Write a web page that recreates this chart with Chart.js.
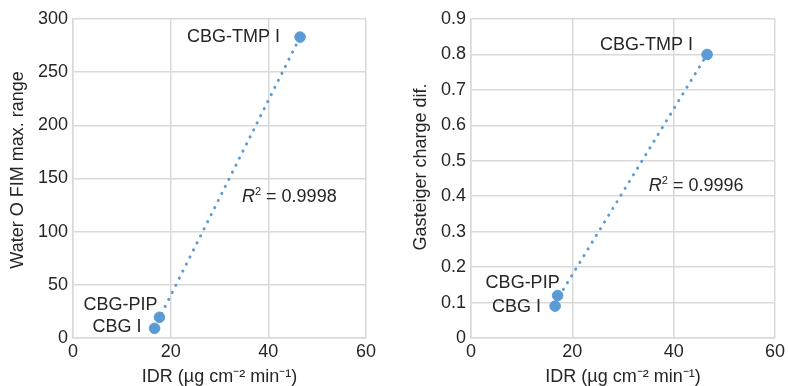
<!DOCTYPE html>
<html>
<head>
<meta charset="utf-8">
<script src="https://cdn.jsdelivr.net/npm/chart.js@4.4.1/dist/chart.umd.min.js"></script>
<style>
  body { margin: 0; background: #fff; }
  .wrap { position: absolute; top: 0; width: 394px; height: 386px; }
</style>
</head>
<body>
<div class="wrap" style="left:0"><canvas id="waterChart" width="394" height="386"></canvas></div>
<div class="wrap" style="left:394px"><canvas id="chargeChart" width="394" height="386"></canvas></div>
<script>
// Data
const compounds = ['CBG I', 'CBG-PIP', 'CBG-TMP I'];
const idrLeft = [16.7, 17.7, 46.5];
const waterFim = [9.1, 19.5, 283];
const idrRight = [16.6, 17.1, 46.6];
const chargeDif = [0.09, 0.12, 0.80];
const xTicks = [0, 20, 40, 60];
const waterTicks = [0, 50, 100, 150, 200, 250, 300];
const chargeTicks = [0, 0.1, 0.2, 0.3, 0.4, 0.5, 0.6, 0.7, 0.8, 0.9];
const r2Texts = ['0.9998', '0.9996'];

const FONT = "'Liberation Sans', Arial, sans-serif";
const TEXT = '#262626';
const BLUE = '#5b9bd5';
const GRID = '#d9d9d9';

// least squares trendline between min and max x
function trendline(xs, ys) {
    const n = xs.length;
    const mx = xs.reduce((a, b) => a + b, 0) / n;
    const my = ys.reduce((a, b) => a + b, 0) / n;
    let sxy = 0, sxx = 0;
    for (let i = 0; i < n; i++) {
        sxy += (xs[i] - mx) * (ys[i] - my);
        sxx += (xs[i] - mx) * (xs[i] - mx);
    }
    const slope = sxy / sxx;
    const b = my - slope * mx;
    const x0 = Math.min(...xs), x1 = Math.max(...xs);
    return [{ x: x0, y: slope * x0 + b }, { x: x1, y: slope * x1 + b }];
}

// point labels, R² text and the y axis title
const labelPlugin = {
    id: 'pointLabels',
    afterDatasetsDraw(chart, args, opts) {
        const ctx = chart.ctx;
        const xs = chart.scales.x, ys = chart.scales.y;
        const pts = chart.data.datasets[0].data;
        ctx.save();
        ctx.fillStyle = TEXT;
        ctx.font = '18px ' + FONT;
        ctx.textAlign = 'right';
        ctx.textBaseline = 'middle';
        pts.forEach((p, i) => {
            const off = opts.offsets[i];
            ctx.fillText(compounds[i], xs.getPixelForValue(p.x) + off[0], ys.getPixelForValue(p.y) + off[1]);
        });
        // R² annotation
        let x = xs.getPixelForValue(opts.r2At[0]);
        const y = ys.getPixelForValue(opts.r2At[1]);
        ctx.textAlign = 'left';
        ctx.font = 'italic 18px ' + FONT;
        ctx.fillText('R', x, y);
        x += ctx.measureText('R').width;
        ctx.font = '11px ' + FONT;
        ctx.fillText('2', x, y - 5);
        x += ctx.measureText('2').width;
        ctx.font = '18px ' + FONT;
        ctx.fillText(' = ' + opts.r2, x, y);

        // y title, sits a bit above the middle like in the original
        ctx.translate(opts.titleAt[0], opts.titleAt[1]);
        ctx.rotate(-Math.PI / 2);
        ctx.textAlign = 'center';
        ctx.fillText(opts.yTitle, 0, 0);
        ctx.restore();
    }
};

function makeChart(id, xs, ys, yTicks, yTitle, cfg) {
    const pts = xs.map((x, i) => ({ x: x, y: ys[i] }));
    new Chart(document.getElementById(id), {
        type: 'scatter',
        data: {
            datasets: [{
                data: pts,
                backgroundColor: BLUE,
                borderColor: BLUE,
                pointRadius: 5.3,
                pointHoverRadius: 5.3
            }, {
                type: 'line',
                data: trendline(xs, ys),
                borderColor: BLUE,
                borderWidth: 3,
                borderDash: [0.1, 7.8],
                borderCapStyle: 'round',
                pointRadius: 0,
                fill: false
            }]
        },
        options: {
            responsive: false,
            animation: false,
            layout: { padding: { left: 0, right: cfg.padRight, top: 19, bottom: 0 } },
            plugins: {
                legend: { display: false },
                tooltip: { enabled: false },
                pointLabels: { offsets: cfg.offsets, r2At: cfg.r2At, r2: cfg.r2, yTitle: yTitle, titleAt: cfg.titleAt }
            },
            scales: {
                x: {
                    type: 'linear',
                    min: 0, max: 60,
                    afterBuildTicks: s => { s.ticks = xTicks.map(v => ({ value: v })); },
                    afterFit: s => { s.height = 48; },
                    grid: { color: GRID, lineWidth: 1.5, drawTicks: false },
                    border: { color: GRID, width: 1.5 },
                    ticks: { color: TEXT, padding: 3, font: { family: FONT, size: 18 } },
                    title: {
                        display: true,
                        text: 'IDR (µg cm⁻² min⁻¹)',
                        color: TEXT,
                        padding: { top: 0, bottom: -2 },
                        font: { family: FONT, size: 18 }
                    }
                },
                y: {
                    type: 'linear',
                    min: yTicks[0], max: yTicks[yTicks.length - 1],
                    afterBuildTicks: s => { s.ticks = yTicks.map(v => ({ value: v })); },
                    afterFit: s => { s.width = cfg.yWidth; },
                    grid: { color: GRID, lineWidth: 1.5, drawTicks: false },
                    border: { color: GRID, width: 1.5 },
                    ticks: { color: TEXT, padding: 5, font: { family: FONT, size: 18 } },
                    title: { display: false }
                }
            }
        },
        plugins: [labelPlugin]
    });
}

makeChart('waterChart', idrLeft, waterFim, waterTicks, 'Water O FIM max. range', {
    padRight: 28, yWidth: 73, titleAt: [18, 170],
    offsets: [[-13, -1], [-2, -12], [-20, 0]],
    r2At: [34.6, 132.6], r2: r2Texts[0]
});
makeChart('chargeChart', idrRight, chargeDif, chargeTicks, 'Gasteiger charge dif.', {
    padRight: 10, yWidth: 77, titleAt: [27, 167],
    offsets: [[-14, 1], [2, -12], [-14, -9]],
    r2At: [35.1, 0.43], r2: r2Texts[1]
});
</script>
</body>
</html>
